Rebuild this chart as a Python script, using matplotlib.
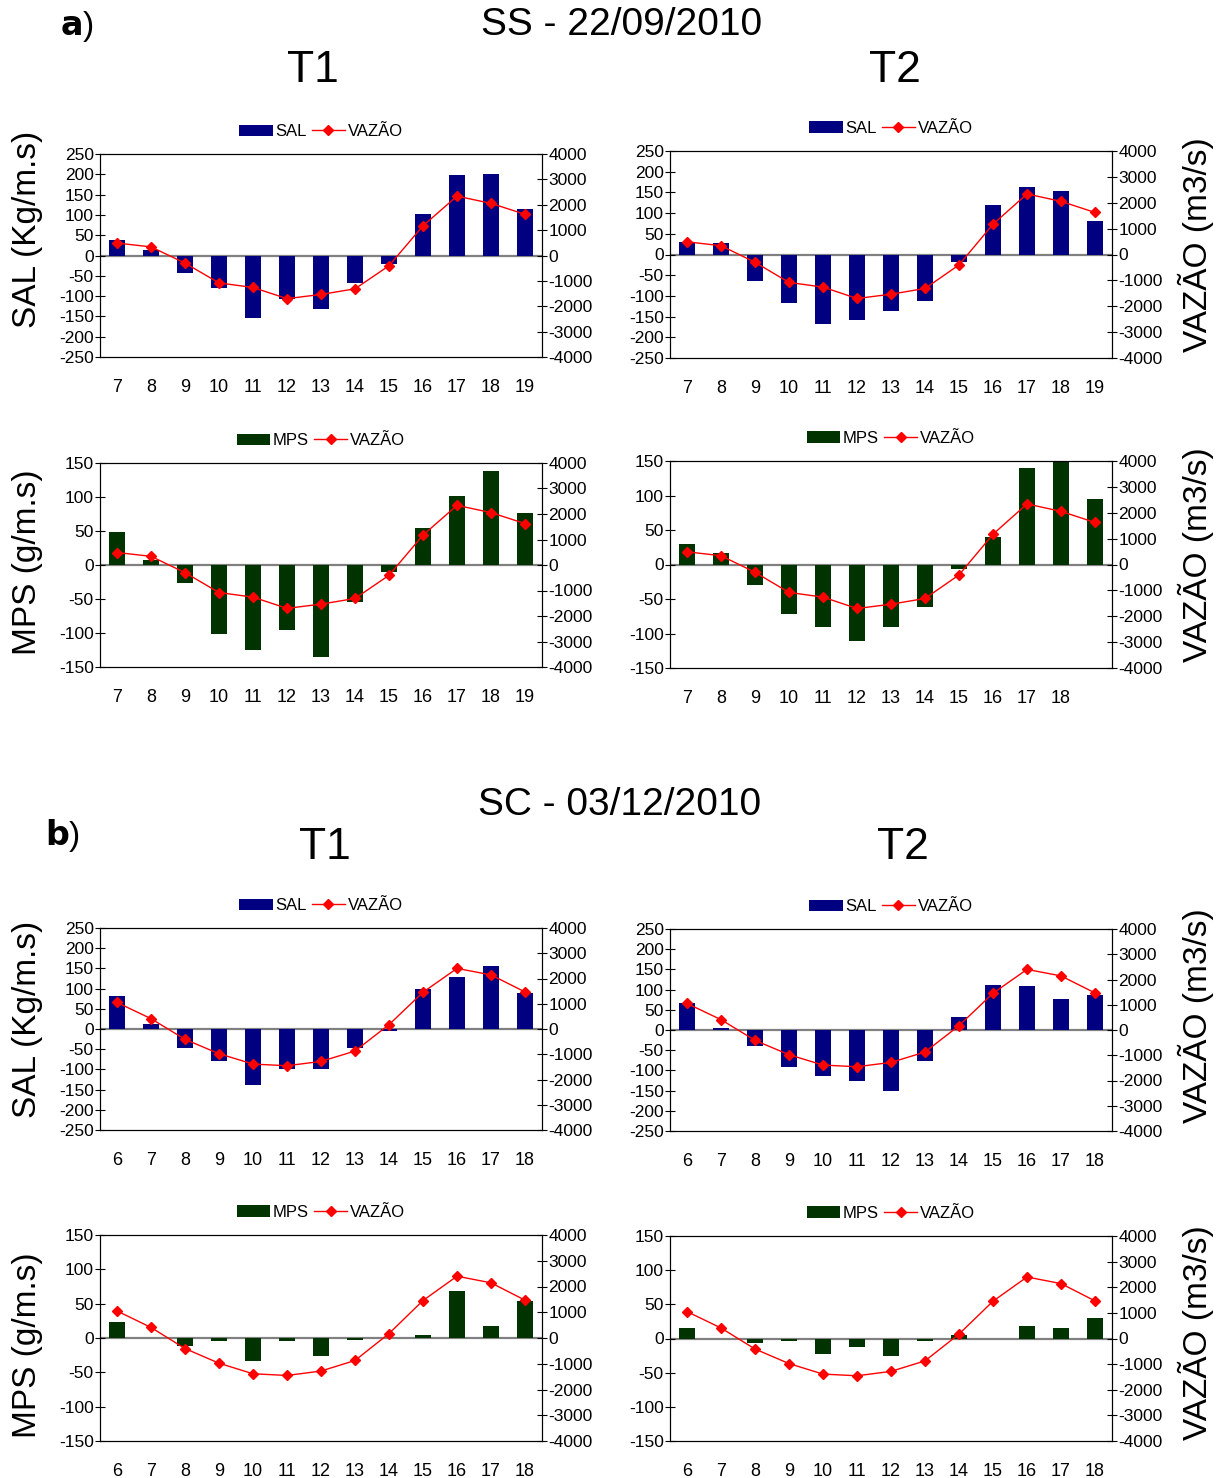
import matplotlib
matplotlib.use("Agg")
import matplotlib.pyplot as plt

plt.rcParams['font.family'] = ['Liberation Sans Narrow', 'Liberation Sans', 'DejaVu Sans']
plt.rcParams['axes.unicode_minus'] = False

# a) SS - 22/09/2010, hours 7..19
hours_a = [7, 8, 9, 10, 11, 12, 13, 14, 15, 16, 17, 18, 19]
vazao_a = [490, 340, -300, -1080, -1260, -1700, -1535, -1313, -403, 1170, 2340, 2054, 1625]
sal_t1_a = [39, 14, -44, -80, -153, -106, -132, -68, -22, 102, 198, 201, 114]
sal_t2_a = [31, 27, -64, -116, -168, -158, -136, -112, -19, 119, 164, 154, 81]
mps_t1_a = [49, 7, -26, -102, -125, -95, -136, -55, -11, 55, 102, 138, 76]
mps_t2_a = [30, 17, -30, -72, -90, -111, -90, -61, -7, 40, 140, 155, 95]
labels_mps_t2_a = ['7', '8', '9', '10', '11', '12', '13', '14', '15', '16', '17', '18', '']

# b) SC - 03/12/2010, hours 6..18
hours_b = [6, 7, 8, 9, 10, 11, 12, 13, 14, 15, 16, 17, 18]
vazao_b = [1050, 410, -410, -979, -1389, -1455, -1283, -873, 172, 1455, 2400, 2143, 1468]
sal_t1_b = [81, 12, -48, -78, -139, -99, -99, -48, -5, 98, 128, 157, 88]
sal_t2_b = [66, 5, -40, -91, -113, -127, -152, -77, 33, 112, 109, 77, 87]
mps_t1_b = [23, 0, -11, -5, -34, -5, -26, -3, 0, 4, 69, 17, 54]
mps_t2_b = [16, 0, -7, -4, -23, -13, -25, -4, 5, 0, 18, 16, 30]

NAVY = '#000080'
DKGREEN = '#003300'

fig = plt.figure(figsize=(12.24, 14.78), dpi=100)
W, H = 1224, 1478
tf = 'Liberation Sans'


def panel(px, top, bottom, values, vazao, labels, name, color, ylim):
    ax = fig.add_axes([px / W, 1 - bottom / H, 442 / W, (bottom - top) / H])
    x = list(range(len(values)))
    bars = ax.bar(x, values, width=0.45, color=color, zorder=2)
    ax.axhline(0, color='#808080', lw=1.6, zorder=1)
    ax.set_xlim(-0.5, len(values) - 0.5)
    ax.set_ylim(-ylim, ylim)
    ax.set_yticks(range(-ylim, ylim + 1, 50))
    ax.set_xticks(x)
    ax.set_xticklabels(labels, fontsize=13)
    ax.tick_params(axis='x', length=0, pad=16)
    ax.tick_params(axis='y', direction='inout', length=7, labelsize=12.5, pad=1)

    ax2 = ax.twinx()
    line, = ax2.plot(x, vazao, color='#ff0000', lw=1.0, marker='D', ms=5,
                     markeredgecolor='#ff0000', zorder=3)
    ax2.set_ylim(-4000, 4000)
    ax2.set_yticks(range(-4000, 4001, 1000))
    ax2.tick_params(axis='y', direction='inout', length=7, labelsize=12.5, pad=1)

    ax.legend([bars, line], [name, 'VAZÃO'], loc='lower center',
              bbox_to_anchor=(0.5, 1.04), ncol=2, frameon=False,
              fontsize=12, handlelength=2.0, handletextpad=0.15,
              columnspacing=0.3, borderaxespad=0)
    return ax


LX, RX = 100, 670

panel(LX, 154, 357, sal_t1_a, vazao_a, [str(h) for h in hours_a], 'SAL', NAVY, 250)
panel(RX, 151, 358, sal_t2_a, vazao_a, [str(h) for h in hours_a], 'SAL', NAVY, 250)
panel(LX, 463, 667, mps_t1_a, vazao_a, [str(h) for h in hours_a], 'MPS', DKGREEN, 150)
panel(RX, 461, 668, mps_t2_a, vazao_a, labels_mps_t2_a, 'MPS', DKGREEN, 150)

panel(LX, 928, 1130, sal_t1_b, vazao_b, [str(h) for h in hours_b], 'SAL', NAVY, 250)
panel(RX, 929, 1131, sal_t2_b, vazao_b, [str(h) for h in hours_b], 'SAL', NAVY, 250)
panel(LX, 1235, 1441, mps_t1_b, vazao_b, [str(h) for h in hours_b], 'MPS', DKGREEN, 150)
panel(RX, 1236, 1441, mps_t2_b, vazao_b, [str(h) for h in hours_b], 'MPS', DKGREEN, 150)

# axis titles placed like in the original figure
for yc, txt in [(229, 'SAL (Kg/m.s)'), (562, 'MPS (g/m.s)'),
                (1019, 'SAL (Kg/m.s)'), (1345, 'MPS (g/m.s)')]:
    fig.text(28 / W, 1 - yc / H, txt, rotation=90, ha='center', va='center',
             fontsize=24, family=tf)
for yc in [245, 555, 1016, 1333]:
    fig.text(1196 / W, 1 - yc / H, 'VAZÃO (m3/s)', rotation=90, ha='center',
             va='center', fontsize=24, family=tf)

# titles and panel letters
fig.text(622 / W, 1 - 25 / H, 'SS - 22/09/2010', ha='center', va='center', fontsize=28, family=tf)
fig.text(313 / W, 1 - 70 / H, 'T1', ha='center', va='center', fontsize=32, family=tf)
fig.text(895 / W, 1 - 70 / H, 'T2', ha='center', va='center', fontsize=32, family=tf)
fig.text(60 / W, 1 - 27 / H, r'$\mathbf{a}$)', ha='left', va='center', fontsize=24, family=tf)

fig.text(620 / W, 1 - 805 / H, 'SC - 03/12/2010', ha='center', va='center', fontsize=28, family=tf)
fig.text(325 / W, 1 - 848 / H, 'T1', ha='center', va='center', fontsize=32, family=tf)
fig.text(903 / W, 1 - 848 / H, 'T2', ha='center', va='center', fontsize=32, family=tf)
fig.text(45 / W, 1 - 835 / H, r'$\mathbf{b}$)', ha='left', va='center', fontsize=24, family=tf)

fig.savefig('out.png', dpi=100)
